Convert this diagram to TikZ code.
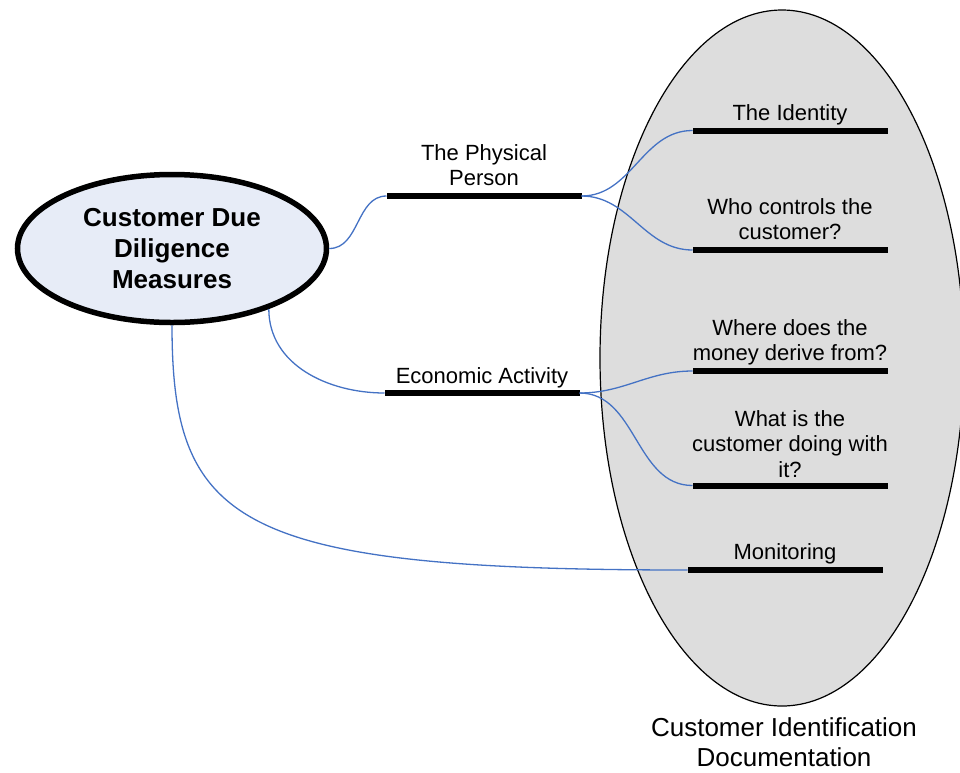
\documentclass[tikz,border=0pt]{standalone}
\usepackage{fontspec}
\setmainfont{Liberation Sans}
\usetikzlibrary{shapes.geometric}
\definecolor{cddfill}{RGB}{231,236,247}
\definecolor{cidfill}{RGB}{221,221,221}
\definecolor{link}{RGB}{68,114,196}
\tikzset{
  branch/.style={rectangle,fill=black,minimum width=195pt,minimum height=6pt,inner sep=0pt,outer sep=0pt},
  lbl/.style={align=center,font=\fontsize{22}{25.5}\selectfont,inner sep=0pt,text depth=0pt},
  tie/.style={draw=link,line width=1.3pt}
}
\begin{document}
\begin{tikzpicture}[x=1pt,y=1pt]
  \useasboundingbox (0,0) rectangle (960,-772);
  \node[ellipse,draw=black,line width=1.2pt,fill=cidfill,minimum width=364pt,minimum height=696pt,inner sep=0pt] (cid) at (782,-358){};
  \node[lbl,font=\fontsize{26}{30}\selectfont,anchor=south] (cidt) at (784,-767) {Customer Identification\\Documentation};

  \node[ellipse,draw=black,line width=5.5pt,fill=cddfill,minimum width=309pt,minimum height=148pt,inner sep=0pt,align=center,font=\bfseries\fontsize{26}{31}\selectfont] (cdd) at (172,-248.5){Customer Due\\Diligence\\Measures};

  \node[branch,label={[lbl,label distance=7pt]above:{The Physical\\Person}}] (phys) at (484,-196){};
  \node[branch,label={[lbl,label distance=6pt]above:{Economic Activity}}] (econ) at (482,-393){};

  \node[branch,label={[lbl,label distance=7pt]above:{The Identity}}] (ident) at (790,-130.5){};
  \node[branch,label={[lbl,label distance=7pt]above:{Who controls the\\customer?}}] (who) at (790,-250){};
  \node[branch,label={[lbl,label distance=7pt]above:{Where does the\\money derive from?}}] (where) at (790,-371){};
  \node[branch,label={[lbl,label distance=5pt]above:{What is the\\customer doing with\\it?}}] (what) at (790,-485.5){};
  \node[branch,label={[lbl,label distance=7pt]above:{Monitoring}}] (mon) at (785,-570){};

  \draw[tie] (cdd.east) to[out=0,in=180] (phys.west);
  \draw[tie] (cdd.-32) to[out=-90,in=180] (econ.west);
  \draw[tie] (cdd.south) .. controls +(0,-200) and +(-450,0) .. (mon.west);
  \draw[tie] (phys.east) to[out=0,in=180] (ident.west);
  \draw[tie] (phys.east) to[out=0,in=180] (who.west);
  \draw[tie] (econ.east) to[out=0,in=180] (where.west);
  \draw[tie] (econ.east) to[out=0,in=180] (what.west);
\end{tikzpicture}
\end{document}
